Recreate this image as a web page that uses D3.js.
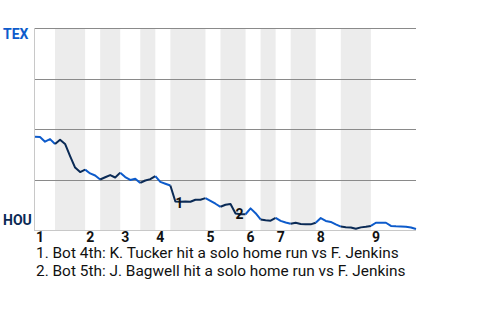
<!DOCTYPE html>
<html>
<head>
<meta charset="utf-8">
<script src="https://cdn.jsdelivr.net/npm/d3@7"></script>
<style>
  body { margin: 0; background: #fff; }
  svg { display: block; font-family: Roboto, sans-serif; }
</style>
</head>
<body>
<svg id="chart"></svg>
<script>
// TEX win probability after each plate appearance (percent)
const winProb = [
  46.2, 46.0, 43.7, 45.0, 42.6, 44.7, 42.6, 36.6, 30.9, 28.7,
  29.9, 28.0, 27.0, 25.0, 26.1, 27.2, 26.0, 28.4, 26.2, 24.8,
  25.4, 23.3, 24.5, 25.2, 26.7, 23.8, 22.9, 22.0, 14.1, 14.0,
  14.1, 14.0, 15.0, 15.0, 15.8, 14.4, 13.0, 11.5, 12.5, 12.9,
  8.2, 7.8, 7.8, 10.7, 8.3, 5.2, 4.8, 4.6, 6.0, 4.5,
  3.7, 3.1, 3.6, 3.0, 2.8, 2.8, 3.6, 5.9, 4.5, 4.0,
  2.8, 1.7, 1.4, 1.2, 0.6, 1.3, 1.6, 2.0, 3.6, 3.6,
  3.6, 2.0, 1.8, 1.7, 1.6, 1.2, 0.5,
];
// plate appearance index where each half inning starts (last = end of game)
const halfStarts = [0, 4, 10, 13, 17, 21, 24, 27, 34, 37, 42, 45, 48, 51, 56, 61, 67, 76];
const inningLabels = ['1', '2', '3', '4', '5', '6', '7', '8', '9'];
const gridTicks = [25, 50, 75, 100];
const eventIdx = [28, 40];
const eventLabels = ['1', '2'];
const notes = [
  '1. Bot 4th: K. Tucker hit a solo home run vs F. Jenkins',
  '2. Bot 5th: J. Bagwell hit a solo home run vs F. Jenkins',
];

const config = {
  w: 480,
  h: 320,
  left: 35,
  right: 416,
  top: 28,
  bottom: 230,
  blue: '#0d5bcb',
  navy: '#0a2a55',
};

const xScale = d3.scaleLinear()
  .domain([0, winProb.length - 1])
  .range([config.left, config.right]);

const yScale = d3.scaleLinear()
  .domain([0, 100])
  .range([config.bottom, config.top]);

const svg = d3.select('#chart')
  .attr('width', config.w)
  .attr('height', config.h);

// shaded bands for bottom halves
const halves = d3.range(halfStarts.length - 1).map((i) => ({
  start: halfStarts[i],
  end: halfStarts[i + 1],
  bottom: i % 2 === 1,
}));

svg.append('g')
  .selectAll('rect')
  .data(halves.filter((d) => d.bottom))
  .join('rect')
  .attr('x', (d) => xScale(d.start))
  .attr('y', config.top)
  .attr('width', (d) => xScale(d.end) - xScale(d.start))
  .attr('height', config.bottom - config.top)
  .attr('fill', '#ececec');

// gridlines
svg.append('g')
  .selectAll('line')
  .data(gridTicks)
  .join('line')
  .attr('x1', config.left)
  .attr('x2', config.right)
  .attr('y1', (d) => Math.round(yScale(d)) + 0.5)
  .attr('y2', (d) => Math.round(yScale(d)) + 0.5)
  .attr('stroke', '#8a8a8a')
  .attr('stroke-width', 1);

// baseline + left edge
svg.append('line')
  .attr('x1', config.left)
  .attr('x2', config.right)
  .attr('y1', config.bottom + 0.5)
  .attr('y2', config.bottom + 0.5)
  .attr('stroke', '#c8c8c8');
svg.append('line')
  .attr('x1', config.left - 0.5)
  .attr('x2', config.left - 0.5)
  .attr('y1', config.top)
  .attr('y2', config.bottom + 1)
  .attr('stroke', '#c8c8c8');

// win probability line, one piece per half inning
const line = d3.line()
  .x((d) => xScale(d))
  .y((d) => yScale(winProb[d]));

svg.append('g')
  .selectAll('path')
  .data(halves)
  .join('path')
  .attr('d', (d) => line(d3.range(d.start, d.end + 1)))
  .attr('fill', 'none')
  .attr('stroke', (d) => (d.bottom ? config.navy : config.blue))
  .attr('stroke-width', 2)
  .attr('stroke-linejoin', 'round');

// event markers
svg.append('g')
  .selectAll('text')
  .data(eventIdx)
  .join('text')
  .attr('x', (d) => xScale(d))
  .attr('y', (d) => yScale(winProb[d]) + 6)
  .attr('font-size', 14)
  .attr('font-weight', 'bold')
  .attr('fill', '#111')
  .text((d, i) => eventLabels[i]);

// team labels
svg.append('text')
  .attr('x', 3)
  .attr('y', 39)
  .attr('font-size', 14)
  .attr('font-weight', 'bold')
  .attr('fill', config.blue)
  .text('TEX');
svg.append('text')
  .attr('x', 3)
  .attr('y', 225)
  .attr('font-size', 14)
  .attr('font-weight', 'bold')
  .attr('fill', config.navy)
  .text('HOU');

// inning numbers at the start of each top half
svg.append('g')
  .selectAll('text')
  .data(inningLabels)
  .join('text')
  .attr('x', (d, i) => xScale(halfStarts[i * 2]) + 1)
  .attr('y', 242)
  .attr('font-size', 14)
  .attr('font-weight', 'bold')
  .attr('fill', '#111')
  .text((d) => d);

// footnotes
svg.append('g')
  .selectAll('text')
  .data(notes)
  .join('text')
  .attr('x', 36)
  .attr('y', (d, i) => 257.5 + i * 18)
  .attr('font-size', 15.4)
  .attr('fill', '#111')
  .text((d) => d);
</script>
</body>
</html>
